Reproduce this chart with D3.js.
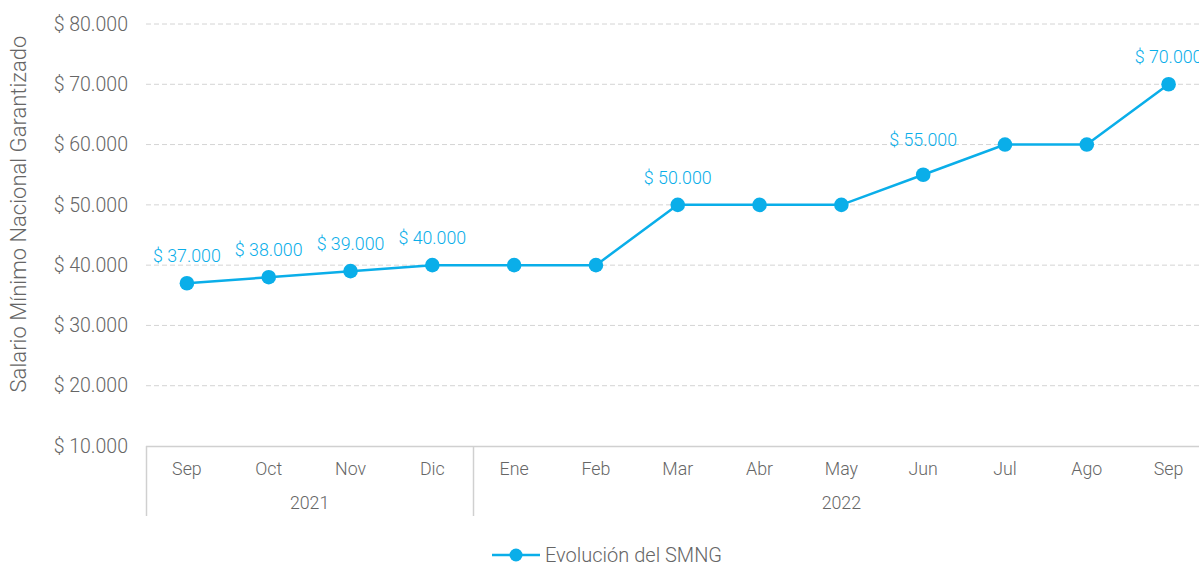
<!DOCTYPE html>
<html>
<head>
<meta charset="utf-8">
<script src="https://cdn.jsdelivr.net/npm/d3@7"></script>
<style>
  body { margin: 0; background: #fff; }
  text { font-family: Roboto, "Noto Sans", sans-serif; font-weight: 300; }
</style>
</head>
<body>
<div id="chart"></div>
<script>
// data
var months = ["Sep", "Oct", "Nov", "Dic", "Ene", "Feb", "Mar", "Abr", "May", "Jun", "Jul", "Ago", "Sep"];
var years = ["2021", "2021", "2021", "2021", "2022", "2022", "2022", "2022", "2022", "2022", "2022", "2022", "2022"];
var smng = [37000, 38000, 39000, 40000, 40000, 40000, 50000, 50000, 50000, 55000, 60000, 60000, 70000];
var showLabel = [true, true, true, true, false, false, true, false, false, true, false, false, true];
var yTicks = [10000, 20000, 30000, 40000, 50000, 60000, 70000, 80000];

var blue = "#0aaee9";
var grey = "#666";

var svg = d3.select("#chart")
  .append("svg")
  .attr("width", 1199)
  .attr("height", 565);

var x = d3.scaleBand()
  .domain(d3.range(months.length))
  .range([146, 1209.5]);

var y = d3.scaleLinear()
  .domain([10000, 80000])
  .range([446, 24]);

function money(v) {
  return "$ " + d3.format(",")(v).replace(/,/g, ".");
}

// grid lines
svg.append("g").selectAll("line")
  .data(yTicks.filter(function(d) { return d > 10000; }))
  .enter()
  .append("line")
  .attr("x1", 146)
  .attr("x2", 1199)
  .attr("y1", function(d) { return y(d); })
  .attr("y2", function(d) { return y(d); })
  .attr("stroke", "#d4d4d4")
  .attr("stroke-dasharray", "5 3");

// y axis labels
var yAxis = d3.axisLeft(y)
  .tickValues(yTicks)
  .tickFormat(money)
  .tickSize(0)
  .tickPadding(18);
var ya = svg.append("g")
  .attr("transform", "translate(146,0)")
  .call(yAxis);
ya.select(".domain").remove();
ya.selectAll("text")
  .attr("fill", grey)
  .style("font-size", "19.5px")
  .style("font-family", "Roboto")
  .style("font-weight", 300);

svg.append("text")
  .attr("transform", "translate(26,214) rotate(-90)")
  .attr("text-anchor", "middle")
  .attr("fill", grey)
  .style("font-size", "22px")
  .text("Salario Mínimo Nacional Garantizado");

// x axis baseline
svg.append("line")
  .attr("x1", 146).attr("x2", 1199)
  .attr("y1", 446.5).attr("y2", 446.5)
  .attr("stroke", "#d0d0d0")
  .attr("stroke-width", 1.5);

// month labels
var xAxis = d3.axisBottom(x)
  .tickFormat(function(i) { return months[i]; })
  .tickSize(0)
  .tickPadding(16);
var xa = svg.append("g")
  .attr("transform", "translate(0,446)")
  .call(xAxis);
xa.select(".domain").remove();
xa.selectAll("text")
  .attr("fill", grey)
  .style("font-size", "17.8px")
  .style("font-family", "Roboto")
  .style("font-weight", 300);

// year groups
var groups = d3.groups(d3.range(months.length), function(i) { return years[i]; });
var bounds = [x(0)];
groups.forEach(function(g) {
  var first = g[1][0], last = g[1][g[1].length - 1];
  var x0 = x(first), x1 = x(last) + x.bandwidth();
  svg.append("text")
    .attr("x", (x0 + Math.min(x1, 1209.5)) / 2)
    .attr("y", 509)
    .attr("text-anchor", "middle")
    .attr("fill", grey)
    .style("font-size", "17.8px")
    .text(g[0]);
  bounds.push(x1);
});
svg.append("g").selectAll("line")
  .data(bounds.slice(0, -1))
  .enter()
  .append("line")
  .attr("x1", function(d) { return Math.round(d) + 0.5; })
  .attr("x2", function(d) { return Math.round(d) + 0.5; })
  .attr("y1", 446)
  .attr("y2", 516)
  .attr("stroke", "#d0d0d0")
  .attr("stroke-width", 1.5);

// series
var cx = function(i) { return x(i) + x.bandwidth() / 2; };
var line = d3.line()
  .x(function(d, i) { return cx(i); })
  .y(function(d) { return y(d); });

svg.append("path")
  .datum(smng)
  .attr("d", line)
  .attr("fill", "none")
  .attr("stroke", blue)
  .attr("stroke-width", 2.5);

svg.append("g").selectAll("circle")
  .data(smng)
  .enter()
  .append("circle")
  .attr("cx", function(d, i) { return cx(i); })
  .attr("cy", function(d) { return y(d); })
  .attr("r", 7.3)
  .attr("fill", blue);

// data labels, only on the points that carry one
var labelled = d3.range(smng.length).filter(function(i) { return showLabel[i]; });
svg.append("g").selectAll("text")
  .data(labelled)
  .enter()
  .append("text")
  .attr("x", function(i) { return cx(i); })
  .attr("y", function(i) { return y(smng[i]) - (i == 9 ? 29 : 21); })
  .attr("text-anchor", "middle")
  .attr("fill", blue)
  .style("font-size", "17.8px")
  .text(function(i) { return money(smng[i]); });

// legend
var lg = svg.append("g").attr("transform", "translate(492,555)");
lg.append("line")
  .attr("x1", 0).attr("x2", 48)
  .attr("stroke", blue)
  .attr("stroke-width", 2.5);
lg.append("circle")
  .attr("cx", 24)
  .attr("r", 6.5)
  .attr("fill", blue);
lg.append("text")
  .attr("x", 53)
  .attr("y", 6.5)
  .attr("fill", grey)
  .style("font-size", "20px")
  .text("Evolución del SMNG");
</script>
</body>
</html>
